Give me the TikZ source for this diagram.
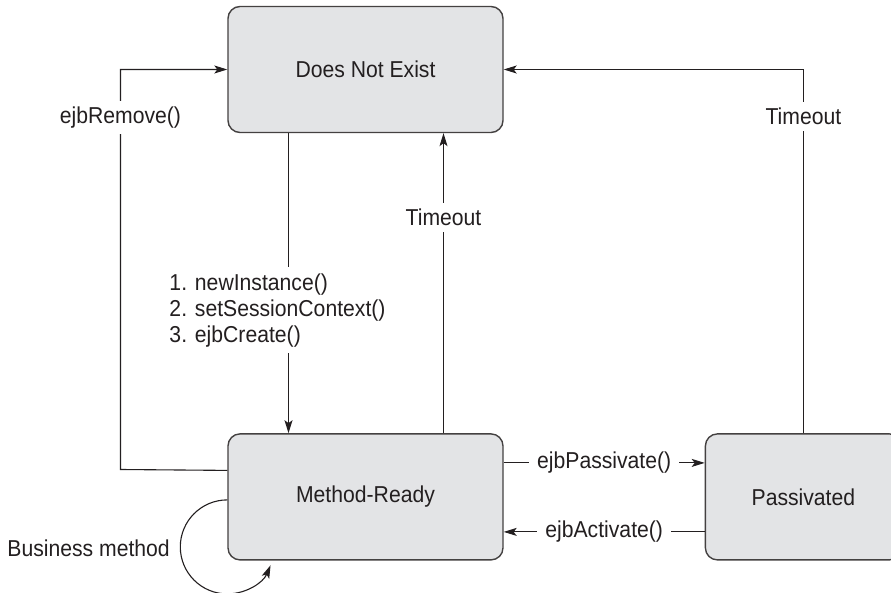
\documentclass[tikz,border=0pt]{standalone}
\usepackage{fontspec}
\setmainfont[FakeStretch=0.92]{Liberation Sans}
\usetikzlibrary{arrows.meta, positioning}
\definecolor{boxgray}{HTML}{E3E4E6}
\definecolor{ink}{HTML}{231F20}

\begin{document}
\begin{tikzpicture}[x=1pt, y=1pt, font=\fontsize{23}{26}\selectfont, text=ink,
    blk/.style={draw=ink!85, line width=1.4pt, fill=boxgray, rounded corners=12pt, minimum height=126pt, minimum width=275pt, align=center},
    lbl/.style={fill=white, inner xsep=8pt, inner ysep=6pt},
    arr/.style={draw=ink, line width=1.1pt, -{Stealth[length=13pt, width=8pt, inset=3pt]}}]
    \clip (0,0) rectangle (891,592);
    \node[blk] (dne) at (365.5,522.5) {Does Not Exist};
    \node[blk, below=300pt of dne] (mr) {Method-Ready};
    \node[blk, minimum width=196pt, right=201pt of mr] (pas) {Passivated};

    % ejbRemove goes round the left side
    \coordinate (rmvlow)  at (120.5,122.5);
    \coordinate (rmvhigh) at (120.5,522.5);
    \draw[arr] ([yshift=26.5pt]mr.west) -- (rmvlow)
               -- node[lbl, pos=0.88]{ejbRemove()} (rmvhigh) -- (dne.west);

    \draw[arr] ([xshift=-77pt]dne.south) -- node[lbl, align=left, pos=0.59, xshift=-11pt]
               {1. newInstance()\\2. setSessionContext()\\3. ejbCreate()} ([xshift=-77pt]mr.north);
    \draw[arr] ([xshift=78pt]mr.north) -- node[lbl, pos=0.72]{Timeout} ([xshift=78pt]dne.south);
    \draw[arr] (pas.north) -- node[lbl, pos=0.87]{Timeout} (pas.north |- dne.east) -- (dne.east);

    \draw[arr] ([yshift=34pt]mr.east)  -- node[lbl]{ejbPassivate()} ([yshift=34pt]pas.west);
    \draw[arr] ([yshift=-35pt]pas.west) -- node[lbl]{ejbActivate()}  ([yshift=-35pt]mr.east);

    % self loop
    \draw[arr] ([yshift=-3pt]mr.west) arc[start angle=90, end angle=337, radius=47pt];
    \node[anchor=east] (bizm) at ([xshift=-54pt, yshift=-51pt]mr.west) {Business method};
\end{tikzpicture}
\end{document}
